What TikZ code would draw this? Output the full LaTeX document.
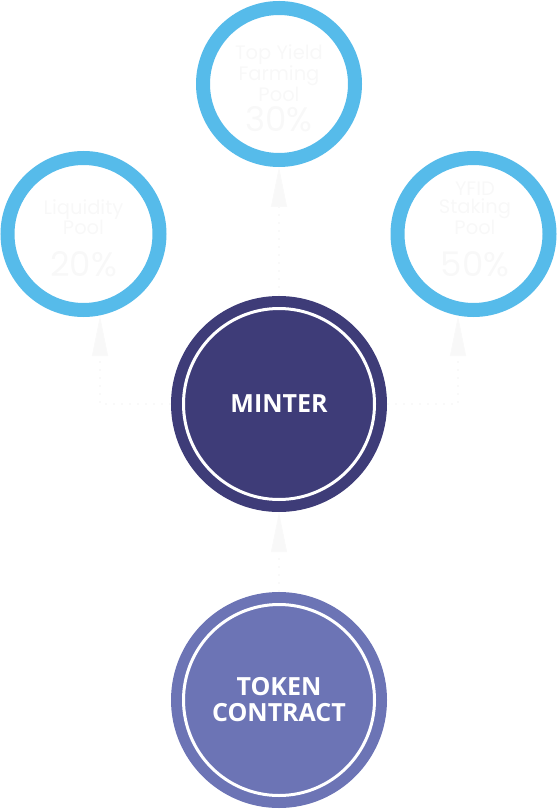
\documentclass[tikz,border=0pt]{standalone}
\usepackage{fontspec}
\setmainfont{Open Sans}
\newfontfamily\poolfont{Poppins}
\usetikzlibrary{arrows.meta}
\definecolor{ringblue}{RGB}{86,187,234}
\definecolor{minterfill}{RGB}{62,60,120}
\definecolor{tokenfill}{RGB}{108,116,181}
\definecolor{faint}{RGB}{248,248,248}
\definecolor{faintline}{RGB}{249,249,249}
\tikzset{
  pool/.style={circle, draw=ringblue, line width=14pt, minimum size=152pt, inner sep=0pt},
  core/.style={circle, minimum size=216pt, inner sep=0pt},
  innerring/.style={circle, draw=white, line width=3pt, minimum size=191pt, inner sep=0pt},
  poollabel/.style={text=faint, font=\poolfont\fontsize{19.5}{18}\selectfont, align=center, inner sep=0pt},
  poolpct/.style={text=faint, font=\poolfont\fontsize{34}{34}\selectfont, inner sep=0pt},
  corelabel/.style={text=white, font=\bfseries\fontsize{25}{26}\selectfont, align=center, inner sep=0pt},
  flow/.style={draw=faintline, line width=1.2pt, dash pattern=on 2pt off 6pt,
    -{Triangle[length=40pt,width=16pt,fill=faint,sep=0pt]}},
}
\begin{document}
\begin{tikzpicture}[x=1pt,y=-1pt]
\useasboundingbox (0,0) rectangle (558,810);
% pools
\node[pool] (top) at (279,84) {};
\node[pool] (left) at (83.5,234) {};
\node[pool] (right) at (473.5,234) {};
% core circles
\node[core, fill=minterfill] (minter) at (279,404) {};
\node[innerring] (minterring) at (279,404) {};
\node[core, fill=tokenfill] (token) at (279,700) {};
\node[innerring] (tokenring) at (279,700) {};
% labels
\node[poollabel] (toptext) at (279,73) {Top Yield\\Farming\\Pool};
\node[poolpct] (toppct) at (279,119) {30\%};
\node[poollabel] (lefttext) at (83.5,217) {Liquidity\\Pool};
\node[poolpct] (leftpct) at (83.5,264) {20\%};
\node[poollabel] (righttext) at (475,208) {YFID\\Staking\\Pool};
\node[poolpct] (rightpct) at (475,264) {50\%};
\node[corelabel] (mintertext) at (279,404) {MINTER};
\node[corelabel] (tokentext) at (279,700) {TOKEN\\CONTRACT};
% connectors
\coordinate (lefttip) at (100,316);
\coordinate (righttip) at (458,316);
\draw[flow] (minter.north) -- (top.south);
\draw[flow] (minter.west) -| (lefttip);
\draw[flow] (minter.east) -| (righttip);
\draw[flow] (token.north) -- (minter.south);
\end{tikzpicture}
\end{document}
